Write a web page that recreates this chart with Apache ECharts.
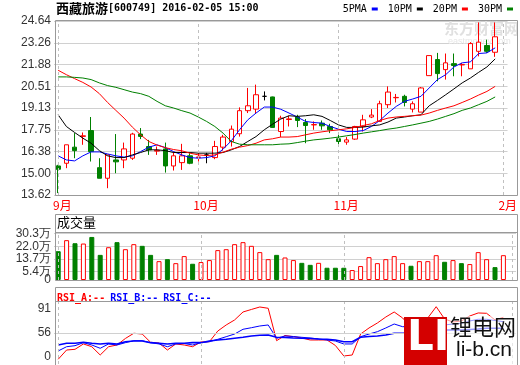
<!DOCTYPE html>
<html><head><meta charset="utf-8">
<script src="https://cdn.jsdelivr.net/npm/echarts@6/dist/echarts.min.js"></script>
<style>html,body{margin:0;padding:0;background:#fff}#c{width:520px;height:365px}</style>
</head><body><div id="c"></div>
<script>
// ---- data ----
const monthLabels = ['9月','10月','11月','2月'];
const monthStarts = [0,17,34,54];
const slotCount = 55;
const categories = Array.from({length: slotCount}, (_, i) => 'd' + (i + 1));

const open  = [15.46,15.63,16.65,17.33,17.70,15.35,14.68,15.84,15.84,15.95,17.48,16.69,16.40,16.54,15.46,15.67,16.10,15.99,16.16,15.99,16.65,17.01,17.50,18.96,19.06,19.87,19.83,17.64,18.40,18.56,18.21,18.06,18.17,17.96,17.18,16.97,17.16,17.96,18.56,18.28,19.34,19.78,19.87,19.06,18.87,21.18,22.20,21.56,21.94,21.86,21.61,22.72,23.09,22.66];
const close = [15.25,16.80,16.43,17.37,16.37,14.68,16.16,15.72,16.54,17.48,17.33,16.48,16.45,15.46,16.10,16.10,15.63,16.03,16.16,16.69,17.29,17.79,18.96,19.27,19.97,19.87,17.90,18.49,18.44,18.34,18.02,18.08,18.00,17.75,17.01,17.11,17.96,18.38,18.68,19.40,20.14,19.80,19.48,19.40,20.40,22.45,21.31,21.99,21.82,21.88,23.21,23.30,22.72,23.64];
const low   = [13.74,15.32,15.95,16.80,15.74,14.68,14.05,15.00,15.32,15.84,17.16,16.16,16.16,15.04,15.17,15.21,15.57,15.74,15.63,15.89,16.43,16.69,17.32,18.81,18.77,19.61,17.88,17.29,17.96,17.92,16.90,17.75,17.75,17.54,16.80,16.80,17.11,17.64,18.49,18.28,19.13,19.48,19.23,18.85,18.87,21.18,20.82,20.93,21.14,21.14,21.61,22.40,22.62,22.37];
const high  = [15.53,16.80,17.54,17.58,18.56,15.95,16.16,17.48,16.94,17.56,17.86,17.11,16.69,16.94,16.37,16.86,16.27,16.31,16.29,17.05,17.43,18.02,19.17,20.40,20.61,20.18,19.85,18.64,18.64,18.70,18.43,18.28,18.34,18.13,17.43,17.29,18.00,18.70,19.06,19.59,20.50,20.02,19.97,19.55,20.46,22.45,22.62,22.58,22.58,21.99,23.30,24.55,23.46,24.55];

const ma5  = [16.10,15.84,15.78,16.10,16.35,16.35,16.22,16.10,16.02,16.10,16.37,16.65,16.80,16.62,16.37,16.16,15.99,15.95,15.99,16.10,16.52,17.05,17.75,18.38,18.81,19.19,19.19,19.05,18.81,18.56,18.28,18.21,18.17,17.96,17.79,17.64,17.64,17.70,17.96,18.34,18.81,19.23,19.55,19.70,19.87,20.40,20.93,21.24,21.73,21.99,22.05,22.58,22.62,22.94];
const ma10 = [18.70,17.96,17.58,17.22,16.90,16.43,16.10,15.99,15.99,16.16,16.31,16.48,16.48,16.43,16.31,16.31,16.31,16.27,16.27,16.27,16.31,16.48,16.69,17.01,17.32,17.75,18.10,18.43,18.64,18.60,18.64,18.70,18.60,18.34,18.06,17.90,17.90,17.92,18.00,18.06,18.24,18.49,18.56,18.64,18.70,19.27,19.61,19.97,20.34,20.72,21.03,21.39,21.73,22.24];
const ma20 = [21.52,21.24,20.99,20.75,20.46,20.04,19.48,18.98,18.49,17.92,17.43,17.01,16.78,16.62,16.50,16.42,16.27,16.16,16.12,16.16,16.33,16.52,16.65,16.75,16.90,17.11,17.18,17.29,17.29,17.32,17.43,17.54,17.62,17.69,17.75,17.81,17.90,18.02,18.13,18.34,18.49,18.56,18.60,18.64,18.68,18.81,18.98,19.13,19.27,19.48,19.70,19.95,20.18,20.50];
const ma30 = [21.10,21.10,21.07,21.03,20.93,20.72,20.55,20.44,20.29,20.14,20.04,19.87,19.55,19.27,19.13,18.96,18.81,18.56,18.28,17.96,17.54,17.01,16.84,16.80,16.80,16.80,16.80,16.84,16.86,16.94,17.03,17.11,17.16,17.22,17.29,17.37,17.45,17.54,17.62,17.70,17.79,17.86,17.96,18.06,18.17,18.28,18.43,18.60,18.77,18.98,19.13,19.34,19.55,19.83];

const volume = [18.8,26.0,24.0,23.8,28.1,16.4,21.4,24.7,20.1,23.4,22.3,16.4,12.3,13.6,11.0,15.6,10.6,11.7,13.0,19.5,20.1,23.4,24.7,22.3,18.2,13.6,16.4,14.7,13.0,11.2,9.9,11.2,8.0,8.0,8.0,6.5,9.1,14.9,11.0,13.6,15.6,11.0,9.3,12.3,12.3,16.2,11.9,13.0,11.0,10.4,18.2,13.6,8.4,16.2];

const rsiA = [17.7,31.2,32.2,40.0,36.0,23.9,36.0,38.5,48.0,55.6,54.5,42.4,41.4,31.2,40.0,38.5,36.0,42.9,43.3,58.9,67.7,75.0,86.6,90.3,93.9,92.0,44.8,52.4,50.6,48.7,45.8,45.8,45.8,37.8,22.5,23.9,54.5,63.3,70.6,79.3,86.6,77.9,64.7,64.7,77.9,94.3,76.4,72.0,73.5,80.8,85.2,84.7,75.0,78.9];
const rsiB = [29.8,36.0,37.5,41.9,38.5,33.7,40.0,38.5,41.9,44.8,44.8,41.9,40.0,36.0,40.0,40.7,38.5,41.9,43.3,46.8,50.6,54.5,61.4,63.7,66.2,67.7,48.3,51.6,50.9,49.7,48.7,47.3,45.8,44.3,40.0,40.0,50.6,54.5,57.9,63.3,69.1,65.2,65.2,65.2,70.6,76.0,67.7,69.1,70.1,73.5,76.0,76.0,74.2,72.5];
const rsiC = [38.5,41.0,41.0,42.4,41.0,40.0,41.0,40.0,43.3,44.3,44.3,41.9,41.0,40.0,41.0,41.0,41.9,41.9,44.3,45.8,46.8,48.3,49.7,51.6,52.6,53.1,49.7,49.4,48.7,48.3,48.0,47.3,46.8,45.8,43.3,43.3,49.7,50.9,51.6,53.1,55.6,55.6,56.0,56.4,58.9,61.4,60.4,60.4,60.4,61.1,61.8,62.9,62.9,62.9];

const priceTicks = [13.62,15.00,16.38,17.75,19.13,20.51,21.88,23.26,24.64];
const volumeTicks = [5.4,13.7,22.0,30.3];
const volumeBaseLabel = '0';
const rsiTicks = [21,56,91];
const rsiTickLabels = ['0','56','91'];

// ---- chart ----
const RED = '#ff0000', GREEN = '#008000', BLUE = '#0000ff';
const FRAME = '#999999';
const candleData = open.map((o, i) => [o, close[i], low[i], high[i]]);
const volData = volume.map((v, i) => ({
  value: v,
  itemStyle: close[i] >= open[i]
    ? {color: '#ffffff', borderColor: RED, borderWidth: 1}
    : {color: GREEN, borderColor: GREEN, borderWidth: 1}
}));
const monthLines = monthStarts.map(i => ({xAxis: i}));
const vMark = {
  silent: true, symbol: ['none','none'], label: {show: false}, animation: false,
  lineStyle: {type: [3,3], color: '#c0c0c0', width: 1},
  data: monthLines
};
const labelFont = {color: '#333', fontSize: 12, fontFamily: 'Liberation Sans', hideOverlap: false, showMinLabel: true, showMaxLabel: true};

const chart = echarts.init(document.getElementById('c'), null, {renderer: 'canvas'});
chart.setOption({
  animation: false,
  backgroundColor: '#fff',
  title: [{
    text: '{c|西藏旅游}{m|[600749] 2016-02-05 15:00}',
    left: 56, top: 2, padding: 0,
    textStyle: {rich: {
      c: {fontFamily: 'Noto Sans CJK SC', fontSize: 13, color: '#000'},
      m: {fontFamily: 'DejaVu Sans Mono', fontSize: 10, color: '#000'}
    }}
  }, {
    text: '成交量', left: 57, top: 216, padding: 0,
    textStyle: {fontFamily: 'Noto Sans CJK SC', fontSize: 13, fontWeight: 'normal', color: '#000'}
  }, {
    text: '{a|RSI_A:--} {b|RSI_B:--} {c|RSI_C:--}',
    left: 57, top: 289, padding: 0,
    textStyle: {rich: {
      a: {fontFamily: 'DejaVu Sans Mono', fontSize: 10, color: RED},
      b: {fontFamily: 'DejaVu Sans Mono', fontSize: 10, color: BLUE},
      c: {fontFamily: 'DejaVu Sans Mono', fontSize: 10, color: BLUE}
    }}
  }],
  legend: {
    data: ['5PMA','10PM','20PM','30PM'],
    right: 7, top: 4, padding: 0,
    align: 'right', icon: 'rect', itemWidth: 6, itemHeight: 3, itemGap: 10,
    textStyle: {fontFamily: 'DejaVu Sans Mono', fontSize: 10, color: '#000', padding: [0,0,0,0]}
  },
  grid: [
    {left: 54, right: 4, top: 21, height: 174},
    {left: 54, right: 4, top: 232.5, height: 47.5},
    {left: 54, right: 4, top: 301.5, height: 62.5}
  ],
  xAxis: [0,1,2].map(g => ({
    type: 'category', gridIndex: g, data: categories, boundaryGap: true,
    axisLine: {show: false}, axisTick: {show: false}, splitLine: {show: false},
    axisLabel: g === 0 ? {
      show: true,
      interval: (idx) => monthStarts.indexOf(idx) >= 0,
      formatter: (v, idx) => { const k = monthStarts.indexOf(idx); return k >= 0 ? monthLabels[k] : ''; },
      color: RED, fontSize: 12, fontFamily: 'Noto Sans CJK SC', align: 'left', margin: 4,
      padding: [0,0,0,-5]
    } : {show: false}
  })),
  yAxis: [{
    type: 'value', gridIndex: 0, min: 13.62, max: 24.64,
    axisLine: {show: false},
    axisTick: {show: false, customValues: priceTicks},
    axisLabel: Object.assign({customValues: priceTicks, formatter: v => v.toFixed(2), margin: 3}, labelFont),
    splitLine: {show: true, lineStyle: {color: '#d0d0d0', width: 1}}
  }, {
    type: 'value', gridIndex: 1, min: 0, max: 31.0, position: 'left',
    axisLine: {show: false},
    axisTick: {show: false, customValues: volumeTicks},
    axisLabel: Object.assign({customValues: volumeTicks, formatter: v => v.toFixed(1) + '万', margin: 3}, labelFont),
    splitLine: {show: true, lineStyle: {color: '#d0d0d0', width: 1}}
  }, {
    type: 'value', gridIndex: 2, min: 10.8, max: 101.9,
    axisLine: {show: false},
    axisTick: {show: false, customValues: rsiTicks},
    axisLabel: Object.assign({customValues: rsiTicks, formatter: v => rsiTickLabels[rsiTicks.indexOf(v)], margin: 3}, labelFont),
    splitLine: {show: false}
  }],
  series: [{
    type: 'candlestick', name: 'K', xAxisIndex: 0, yAxisIndex: 0, data: candleData,
    barWidth: 5,
    itemStyle: {color: '#ffffff', color0: GREEN, borderColor: RED, borderColor0: GREEN, borderColorDoji: '#000000', borderWidth: 1},
    markLine: vMark, z: 3
  },
  {type: 'line', name: '5PMA', data: ma5, xAxisIndex: 0, yAxisIndex: 0, showSymbol: false, symbol: 'none', color: BLUE, lineStyle: {width: 1, color: BLUE}, z: 4},
  {type: 'line', name: '10PM', data: ma10, xAxisIndex: 0, yAxisIndex: 0, showSymbol: false, symbol: 'none', color: '#000', lineStyle: {width: 1, color: '#000'}, z: 4},
  {type: 'line', name: '20PM', data: ma20, xAxisIndex: 0, yAxisIndex: 0, showSymbol: false, symbol: 'none', color: RED, lineStyle: {width: 1, color: RED}, z: 4},
  {type: 'line', name: '30PM', data: ma30, xAxisIndex: 0, yAxisIndex: 0, showSymbol: false, symbol: 'none', color: GREEN, lineStyle: {width: 1, color: GREEN}, z: 4},
  {
    type: 'bar', name: 'VOL', xAxisIndex: 1, yAxisIndex: 1, data: volData, barWidth: 5,
    markLine: vMark
  },
  {
    type: 'line', name: 'RSI_A', data: rsiA, xAxisIndex: 2, yAxisIndex: 2, showSymbol: false, symbol: 'none',
    lineStyle: {width: 1, color: RED}, color: RED,
    markLine: {
      silent: true, symbol: ['none','none'], label: {show: false}, animation: false,
      data: monthLines.map(d => Object.assign({lineStyle: {type: [3,3], color: '#c0c0c0', width: 1}}, d))
        .concat([{yAxis: 56, lineStyle: {type: 'solid', color: '#d0d0d0', width: 1}}])
    }
  },
  {type: 'line', name: 'RSI_B', data: rsiB, xAxisIndex: 2, yAxisIndex: 2, showSymbol: false, symbol: 'none', lineStyle: {width: 1, color: BLUE}, color: BLUE},
  {type: 'line', name: 'RSI_C', data: rsiC, xAxisIndex: 2, yAxisIndex: 2, showSymbol: false, symbol: 'none', lineStyle: {width: 1.6, color: BLUE}, color: BLUE}
  ],
  graphic: [
    {type: 'rect', z: 100, silent: true, shape: {x: 55.5, y: 20.5, width: 462, height: 175}, style: {fill: 'none', stroke: FRAME, lineWidth: 1}},
    {type: 'rect', z: 100, silent: true, shape: {x: 55.5, y: 214.5, width: 462, height: 66}, style: {fill: 'none', stroke: FRAME, lineWidth: 1}},
    {type: 'line', z: 100, silent: true, shape: {x1: 55.5, y1: 232.5, x2: 517.5, y2: 232.5}, style: {stroke: FRAME, lineWidth: 1}},
    {type: 'rect', z: 100, silent: true, shape: {x: 55.5, y: 287.5, width: 462, height: 78}, style: {fill: 'none', stroke: FRAME, lineWidth: 1}},
    {type: 'line', z: 100, silent: true, shape: {x1: 55.5, y1: 301.5, x2: 517.5, y2: 301.5}, style: {stroke: FRAME, lineWidth: 1}},
    // volume baseline label "0"
    {type: 'text', z: 100, silent: true, x: 51, y: 280, style: {text: volumeBaseLabel, font: '12px "Liberation Sans"', fill: '#333', align: 'right', verticalAlign: 'middle'}},
    // eastmoney watermark
    {type: 'text', z: 1, silent: true, left: 444, top: 21, style: {text: '东方财富网', font: 'bold 15px "Noto Sans CJK SC"', fill: '#e0e0e0'}},
    {type: 'text', z: 1, silent: true, left: 448, top: 37, style: {text: 'eastmoney.com', font: '9px "Liberation Sans"', fill: '#e6e6e6'}},
    // li-b.cn logo
    {type: 'rect', z: 90, silent: true, shape: {x: 447, y: 316, width: 73, height: 49}, style: {fill: 'rgba(255,255,255,0.6)'}},
    {type: 'rect', z: 91, silent: true, shape: {x: 404, y: 317, width: 43, height: 48}, style: {fill: '#d40000'}},
    {type: 'text', z: 92, silent: true, left: 407, top: 318, style: {text: 'LI', font: 'bold 42px "DejaVu Sans"', fill: '#ffffff'}},
    {type: 'text', z: 92, silent: true, left: 450, top: 316, style: {text: '锂电网', font: '22px "Noto Sans CJK SC"', fill: '#111'}},
    {type: 'text', z: 92, silent: true, left: 456, top: 340, style: {text: 'li-b.cn', font: '21px "Liberation Sans"', fill: '#111'}}
  ]
});
</script>
</body></html>
